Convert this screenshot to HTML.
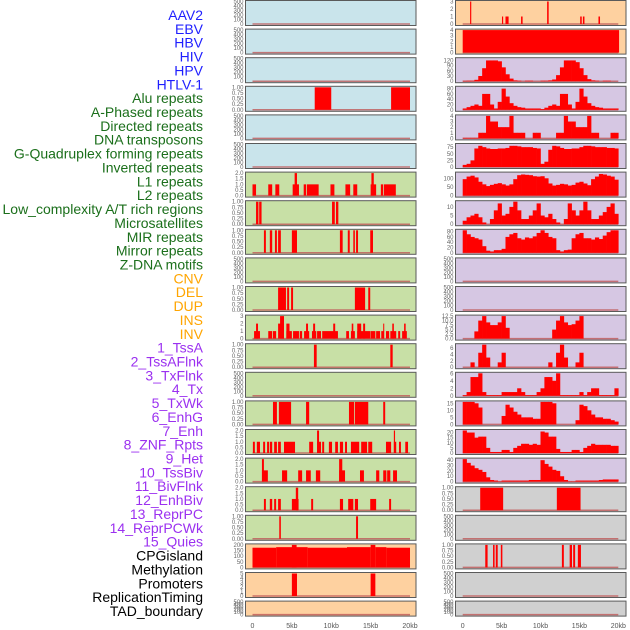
<!DOCTYPE html>
<html><head><meta charset="utf-8">
<style>
html,body{margin:0;padding:0;background:#fff;}
svg{display:block;font-family:"Liberation Sans",sans-serif;}
</style></head>
<body>
<svg id="chart" width="630" height="630" viewBox="0 0 630 630"></svg>
<script>
const labelNames=["AAV2","EBV","HBV","HIV","HPV","HTLV-1","Alu repeats","A-Phased repeats","Directed repeats","DNA transposons","G-Quadruplex forming repeats","Inverted repeats","L1 repeats","L2 repeats","Low_complexity A/T rich regions","Microsatellites","MIR repeats","Mirror repeats","Z-DNA motifs","CNV","DEL","DUP","INS","INV","1_TssA","2_TssAFlnk","3_TxFlnk","4_Tx","5_TxWk","6_EnhG","7_Enh","8_ZNF_Rpts","9_Het","10_TssBiv","11_BivFlnk","12_EnhBiv","13_ReprPC","14_ReprPCWk","15_Quies","CPGisland","Methylation","Promoters","ReplicationTiming","TAD_boundary"];
const labelGroups=[0,0,0,0,0,0,1,1,1,1,1,1,1,1,1,1,1,1,1,2,2,2,2,2,3,3,3,3,3,3,3,3,3,3,3,3,3,3,3,4,4,4,4,4];
const xTickLabels=["0","5kb","10kb","15kb","20kb"];
const xTickValues=[0,5,10,15,20];

// Left column: segments [startKb, endKb, value]
const leftMax=[500,500,500,1,500,500,2,1,1,500,1,3,1,500,1,2,2,2,1,200,5,500];
const leftBg=["b","b","b","b","b","b","g","g","g","g","g","g","g","g","g","g","g","g","g","o","o","o"];
const leftSegs=[
 [],[],[],
 [[7.9,10.0,1],[17.6,20.0,1]],
 [],[],
 [[0,0.45,1],[2.0,2.5,1],[2.9,3.4,1],[5.1,5.9,1],[5.35,5.65,2],[6.5,6.8,1],[6.9,8.4,1],[9.9,10.4,1],[11.8,12.4,1],[12.8,13.3,1],[15.0,15.7,1],[15.1,15.4,2],[16.3,16.6,1],[16.7,18.2,1]],
 [[0.45,0.75,1],[0.85,1.15,1],[10.1,10.45,1],[10.6,10.9,1]],
 [[1.45,1.7,1],[2.2,2.5,1],[2.85,3.1,1],[3.25,3.6,1],[5.0,5.65,1],[11.1,11.45,1],[12.1,12.35,1],[12.8,13.0,1],[13.15,13.4,1],[14.95,15.3,1]],
 [],
 [[3.25,4.25,1],[4.4,4.65,1],[4.9,5.15,1],[13.0,14.3,1],[14.7,14.95,1]],
 [[0.2,0.95,1],[0.45,0.7,2],[2.0,2.5,1],[2.6,3.0,1],[3.25,4.0,2],[3.5,4.0,3],[4.3,5.0,1],[4.3,4.7,2],[5.15,5.9,1],[6.0,6.3,1],[6.55,7.2,1],[6.8,7.05,2],[7.55,8.1,1],[7.7,7.95,2],[8.2,8.7,1],[8.85,10.85,1],[10.25,10.5,2],[11.9,12.25,1],[12.5,13.0,1],[12.6,12.8,2],[13.3,14.95,1],[13.3,13.8,2],[14.05,14.3,2],[15.0,15.6,1],[15.7,16.2,1],[16.35,16.7,1],[16.6,16.7,2],[16.95,17.35,1],[17.5,18.25,1],[17.75,17.95,2],[18.5,18.75,1],[19.0,19.6,1],[19.25,19.45,2]],
 [[7.8,8.15,1],[17.5,17.8,1]],
 [],
 [[2.6,3.1,1],[3.35,4.9,1],[6.8,7.2,1],[12.25,12.9,1],[13.0,14.7,1],[16.6,16.85,1]],
 [[0.05,0.3,1],[0.55,0.95,1],[1.35,1.6,1],[1.85,2.1,1],[2.2,2.5,1],[2.75,3.1,1],[3.25,3.6,1],[4.0,5.4,1],[7.2,7.7,1],[8.2,8.7,1],[8.2,8.45,2],[8.85,9.1,1],[9.7,10.1,1],[10.5,10.85,1],[11.1,11.5,1],[11.75,12.0,1],[12.5,13.55,1],[13.8,14.55,1],[14.7,15.2,1],[16.95,17.6,1],[17.95,18.25,1],[17.95,18.1,2],[18.6,18.85,1],[19.4,19.75,1]],
 [[1.2,1.95,1],[1.2,1.45,2],[3.75,4.4,1],[5.8,6.3,1],[6.8,7.4,1],[8.05,8.6,1],[11.0,11.75,1],[11.0,11.4,2],[13.65,14.15,1],[15.7,16.1,1],[16.6,17.0,1],[17.1,17.5,1],[17.85,18.35,1]],
 [[1.45,1.7,1],[2.2,2.5,1],[2.75,3.0,1],[3.25,3.6,1],[5.0,5.85,1],[5.5,5.8,2],[7.45,7.7,1],[11.1,11.5,1],[12.15,12.8,1],[13.0,13.4,1],[14.95,15.7,1],[17.35,17.6,1]],
 [[3.4,3.6,1],[13.15,13.4,1]],
 [[0,3,175],[3,7,180],[5.0,5.6,200],[7,12,175],[12,15,180],[15.0,15.6,200],[15.6,17,180],[17,20,175]],
 [[5.0,5.65,5],[15.0,15.6,5]],
 []
];

// Right column: mostly binned profiles (0.5kb bins from 0 to 20kb), some segments
const rightMax=[3,4,130,85,4,85,130,13,85,500,500,12.5,7,6,16,22,42,1,500,1,500,500];
const rightBg=["o","o","p","p","p","p","p","p","p","p","p","p","p","p","p","p","p","y","y","y","y","y"];
const rightSegs={
 0:[[0.95,1.1,3],[5.05,5.2,1],[5.5,5.9,1],[7.5,7.7,1],[10.85,11.05,3],[15.1,15.3,1],[15.45,15.65,1],[17.45,17.65,1]],
 1:[[0,20.1,4]],
 17:[[2.25,5.2,1],[12.1,15.15,1]],
 19:[[2.9,3.2,1],[3.9,4.1,1],[4.25,4.5,1],[4.9,5.1,1],[12.75,13.0,1],[13.75,14.05,1],[14.2,14.45,1],[14.8,15.2,1]]
};
const rightBins={
 2:[2,3,3,8,30,75,120,120,120,115,80,40,15,5,3,0,3,3,0,0,3,3,5,10,35,80,120,120,120,110,75,35,12,5,3,0,3,3,0,0],
 3:[5,10,15,20,15,60,60,20,5,30,80,50,25,15,10,8,5,5,5,5,3,8,15,20,15,60,60,20,5,30,80,50,25,15,10,8,5,5,5,5],
 4:[0.1,0.1,0.1,0.1,1,1,4,3,3,2,2,2,4,1,1,1,0,0,1,1,0,0,0,0,1,1,4,3,3,2,2,2,4,1,1,0,0,0,1,1],
 5:[8,12,25,70,80,75,70,68,68,70,70,72,80,80,78,75,75,75,72,70,12,20,65,80,78,72,68,68,70,70,75,80,80,78,75,75,75,72,72,70],
 6:[95,110,115,105,80,65,55,62,68,72,65,58,65,95,118,122,120,118,112,110,112,100,70,58,62,68,65,58,62,75,80,70,60,95,110,125,122,115,110,92],
 7:[2,4,5,6,4,1,0,3,8,12,5,6,10,13,8,3,3,5,8,12,5,4,6,3,1,0,3,12,8,5,8,13,8,3,3,5,7,10,12,6],
 8:[85,70,60,55,50,25,8,5,10,10,15,60,70,75,55,50,58,55,62,75,85,75,60,55,10,5,10,12,55,70,75,55,55,50,58,52,65,78,85,85],
 11:[0,0,0,4,10,12.5,9,7.5,7.5,9,12.5,6,0,0,0,0,0,0,0,0,0,0,0,5,10,12.5,9,7.5,8,10,12.5,0,0,0,0,0,0,0,0,0],
 12:[0,0,1.5,0,4.5,7,3,0,0,1.5,4.5,0,0,0,0,0,0,0,0,0,0,0,1.5,0,4.5,7,3,0,0,1.5,4.5,0,0,0,0,0,0,0,0,0],
 13:[0.2,1,5,5,6,1,0.2,0.2,0.2,0.2,1,1,1,1,2,1,0.2,0.2,0.2,1,2,5,5,4,6,0.2,0.2,0.2,0.2,0.2,1,0.2,1,2,2,0.2,0.2,0.2,0.2,2],
 14:[16,16,16,15,12,0,0,0,0,0,6,14,12,9,7,5,5,5,4,4,16,16,16,15,0,0,0,0,0,3,14,13,10,7,5,5,4,4,3,2],
 15:[22,20,20,15,16,16,5,1,1,1,3,3,1,5,7,9,9,8,9,8,21,20,16,16,4,1,1,1,3,3,1,5,7,9,8,8,8,8,7,7],
 16:[42,35,30,25,22,18,8,3,2,0.5,2,2,2,2,2,2,2,3,3,3,40,33,28,22,20,10,3,0.5,0.5,2,2,2,2,2,2,3,4,4,4,4]
};
const rightTicks={0:[0,1,2,3],1:[0,1,2,3,4],2:[0,30,60,90,120],3:[0,20,40,60,80],4:[0,1,2,3,4],5:[0,25,50,75],6:[0,50,100],7:[0,5,10],8:[0,20,40,60,80],11:[0,2.5,5,7.5,10,12.5],12:[0,2,4,6],13:[0,2,4,6],14:[0,5,10,15],15:[0,5,10,15,20],16:[0,10,20,30,40]};
const leftTicks={6:[0,0.5,1,1.5,2],11:[0,1,2,3],15:[0,0.5,1,1.5,2],16:[0,0.5,1,1.5,2],17:[0,0.5,1,1.5,2],19:[0,50,100,150,200],20:[0,1,2,3,4,5]};

const NS="http://www.w3.org/2000/svg";
const svg=document.getElementById("chart");
function mk(tag,attrs,parent){const e=document.createElementNS(NS,tag);for(const k in attrs)e.setAttribute(k,attrs[k]);(parent||svg).appendChild(e);return e;}
const bgCol={b:"#c9e4eb",g:"#c8e0a6",o:"#fed1a0",p:"#d6c7e3",y:"#d0d0d0"};
const grpCol=["#1f1fff","#1b6f1b","#ffa500","#9b30f0","#000000"];
const cols=[{x0:245.5,w:170.5,zero:252.5,k:7.875},{x0:455.5,w:170.5,zero:462.7,k:7.78}];
function rowTop(r){return 0.5+28.6*r;}
function rowH(r){return r===21?15:25;}
function fmt(v,ts){const step=ts.length>1?ts[1]-ts[0]:1;if(step===0.25)return v.toFixed(2);if(step===0.5||step===2.5)return v.toFixed(1);return String(v);}

// labels
labelNames.forEach((n,i)=>{
 const t=mk("text",{x:203,y:15+i*13.86+5,"text-anchor":"end","font-size":"14",fill:grpCol[labelGroups[i]]});
 t.textContent=n;
 
 
});

function drawPanel(c,r,bg,ymax,ticks,segs,bins){
 const C=cols[c];const top=rowTop(r),h=rowH(r);
 const g=mk("g",{});
 
 
 mk("rect",{x:C.x0,y:top,width:C.w,height:h,fill:bgCol[bg]},g);
 const y0=top+h-1.5,yTop=top+1;
 const ys=v=>y0-(v/ymax)*(y0-yTop);
 const xs=kb=>C.zero+kb*C.k;
 mk("line",{x1:xs(0),x2:xs(20),y1:y0,y2:y0,stroke:"#c05a5a","stroke-width":1.5,opacity:0.8},g);
 if(segs)segs.forEach(s=>{
  const b=mk("rect",{x:xs(s[0]),y:ys(Math.min(s[2],ymax)),width:Math.max(1,xs(s[1])-xs(s[0])),height:y0-ys(Math.min(s[2],ymax)),fill:"#ff0000"},g);
  
  
 });
 if(bins)bins.forEach((v,i)=>{
  if(v<=0)return;
  const vv=Math.min(v,ymax);
  const b=mk("rect",{x:xs(i*0.5),y:ys(vv),width:xs(i*0.5+0.5)-xs(i*0.5)+0.3,height:y0-ys(vv),fill:"#ff0000"},g);
  
  
 });
 mk("rect",{x:C.x0,y:top,width:C.w,height:h,fill:"none",stroke:"#5a5a5a","stroke-width":1},g);
 ticks.forEach(tv=>{
  const t=mk("text",{x:C.x0-2,y:ys(tv)+2,"text-anchor":"end","font-size":"6",fill:"#666"},g);
  t.textContent=fmt(tv,ticks);
 });
}
const emptyTicks=[0,100,200,300,400,500];
for(let r=0;r<22;r++){
 const lm=leftMax[r];
 const lt=leftTicks[r]||(lm===1?[0,0.25,0.5,0.75,1]:emptyTicks);
 drawPanel(0,r,leftBg[r],lm===500?500:lm*1.0,lt,leftSegs[r],null);
 const rm=rightMax[r];
 const rt=rightTicks[r]||(rm===1?[0,0.25,0.5,0.75,1]:emptyTicks);
 drawPanel(1,r,rightBg[r],rm,rt,rightSegs[r]||null,rightBins[r]||null);
}
// x axes
cols.forEach((C,ci)=>{
 xTickValues.forEach((v,i)=>{
  const t=mk("text",{x:C.zero+v*C.k,y:628,"text-anchor":"middle","font-size":"7",fill:"#555"});
  t.textContent=xTickLabels[i];
  
  
 });
});
</script>
</body></html>
